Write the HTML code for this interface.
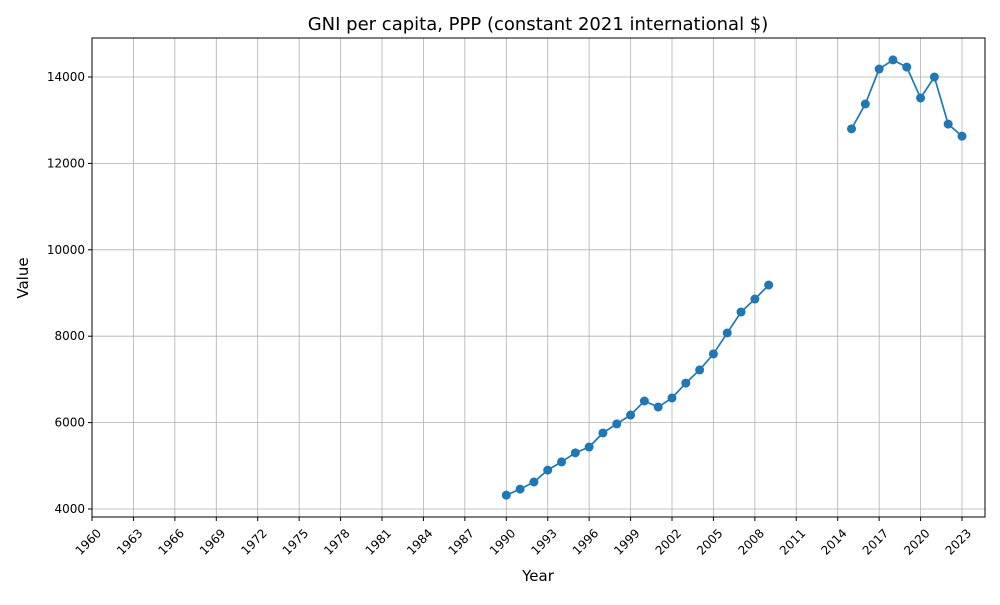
<!DOCTYPE html>
<html><head><meta charset="utf-8"><style>
body{margin:0;background:#fff;font-family:"Liberation Sans","DejaVu Sans",sans-serif}
svg text{font-family:"DejaVu Sans","Liberation Sans",sans-serif}
</style></head><body>
<svg id="chart" width="1000" height="600" viewBox="0 0 1000 600" xmlns="http://www.w3.org/2000/svg">
<rect width="1000" height="600" fill="#fff"/>
<text x="538" y="30" text-anchor="middle" font-size="18">GNI per capita, PPP (constant 2021 international $)</text>
<g id="grid"></g>
<g id="xticks"></g>
<g id="yticks"></g>
<g id="series"></g>
<rect x="92" y="38" width="893" height="479" fill="none" stroke="#000" stroke-width="1"/>
<text x="538" y="581" text-anchor="middle" font-size="15">Year</text>
<text x="28" y="278" text-anchor="middle" font-size="15" transform="rotate(-90 28 278)">Value</text>
</svg>
<script>
const years1=[1990,1991,1992,1993,1994,1995,1996,1997,1998,1999,2000,2001,2002,2003,2004,2005,2006,2007,2008,2009];
const values1=[4320,4460,4625,4900,5090,5300,5435,5760,5970,6175,6500,6360,6570,6915,7220,7590,8075,8560,8860,9185];
const years2=[2015,2016,2017,2018,2019,2020,2021,2022,2023];
const values2=[12800,13375,14185,14395,14230,13515,14000,12910,12630];
const xTickLabels=[1960,1963,1966,1969,1972,1975,1978,1981,1984,1987,1990,1993,1996,1999,2002,2005,2008,2011,2014,2017,2020,2023];
const yTickLabels=[4000,6000,8000,10000,12000,14000];
const NS="http://www.w3.org/2000/svg";
const L=92,R=985,T=38,B=517;
const x=v=>L+(v-1960)*(962-92)/63;
const y=v=>509-(v-4000)*0.0432;
function mk(tag,attrs,parent){const e=document.createElementNS(NS,tag);for(const k in attrs)e.setAttribute(k,attrs[k]);document.getElementById(parent).appendChild(e);return e;}
xTickLabels.forEach(t=>{
  const g=mk('line',{x1:x(t),x2:x(t),y1:T,y2:B,stroke:'#b0b0b0','stroke-width':0.8},'grid');
  
  
  mk('line',{x1:x(t),x2:x(t),y1:B,y2:B+4,stroke:'#000'},'xticks');
  const ax=x(t)+10, ay=B+17;
  const tx=mk('text',{x:ax,y:ay,'font-size':12,'text-anchor':'end',transform:`rotate(-45 ${ax} ${ay})`},'xticks');
  tx.textContent=t;
  
  
});
yTickLabels.forEach(t=>{
  const g=mk('line',{x1:L,x2:R,y1:y(t),y2:y(t),stroke:'#b0b0b0','stroke-width':0.8},'grid');
  
  
  mk('line',{x1:L-4,x2:L,y1:y(t),y2:y(t),stroke:'#000'},'yticks');
  const tx=mk('text',{x:L-7,y:y(t)+4,'font-size':12,'text-anchor':'end'},'yticks');
  tx.textContent=t;
  
  
});
[[years1,values1],[years2,values2]].forEach(([ys,vs])=>{
  const p=mk('polyline',{points:ys.map((yr,i)=>x(yr)+','+y(vs[i])).join(' '),fill:'none',stroke:'#1f77b4','stroke-width':1.7},'series');
  
  
  ys.forEach((yr,i)=>{
    const c=mk('circle',{cx:x(yr),cy:y(vs[i]),r:4.5,fill:'#1f77b4'},'series');
    
    
  });
});
</script>
</body></html>
